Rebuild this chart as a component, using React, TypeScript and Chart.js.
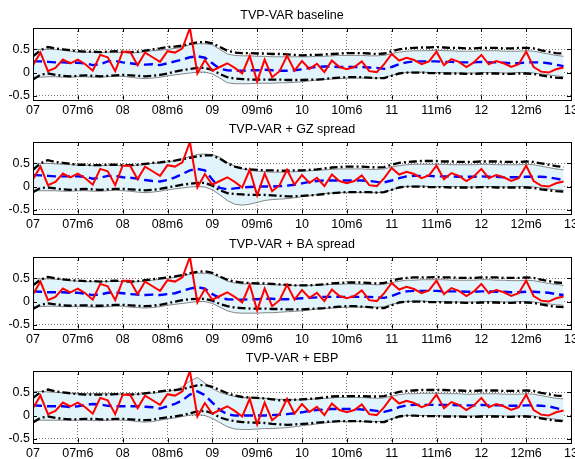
import React, { useEffect, useRef } from "react";
import { Chart, registerables } from "chart.js";
Chart.register(...registerables);

// x positions: months since 2007m1
const months = Array.from({ length: 72 }, (_, i) => i);
const xTickValues = [0, 6, 12, 18, 24, 30, 36, 42, 48, 54, 60, 66, 72];
const xTickLabels = ["07", "07m6", "08", "08m6", "09", "09m6", "10", "10m6", "11", "11m6", "12", "12m6", "13"];
const yTickValues = [-0.5, 0, 0.5];
const yTickLabels = ["-0.5", "0", "0.5"];
const titles = ["TVP-VAR baseline", "TVP-VAR + GZ spread", "TVP-VAR + BA spread", "TVP-VAR + EBP"];

const actual = [
  0.16, 0.43, 0.03, 0.10, 0.28, 0.20, 0.28, 0.18, 0.04, 0.38, 0.33, 0.03,
  0.45, 0.45, 0.16, 0.43, 0.33, 0.23, 0.46, 0.43, 0.52, 0.96, -0.02, 0.27,
  0.04, 0.12, 0.20, 0.10, -0.02, 0.36, -0.19, 0.28, -0.10, 0.03, 0.36, 0.04,
  0.25, 0.08, 0.19, 0.01, 0.26, 0.12, 0.07, 0.12, 0.24, 0.03, 0.01, 0.18,
  0.40, 0.26, 0.32, 0.27, 0.18, 0.24, 0.45, 0.16, 0.29, 0.23, 0.12, 0.22,
  0.38, 0.18, 0.25, 0.20, 0.12, 0.18, 0.45, 0.12, 0.02, 0.00, 0.07, 0.11,
];

// ---- baseline ----
const mean1 = [
  0.24, 0.24, 0.23, 0.22, 0.22, 0.21, 0.21, 0.20, 0.16, 0.18, 0.24, 0.25,
  0.22, 0.20, 0.18, 0.17, 0.18, 0.16, 0.20, 0.24, 0.28, 0.33, 0.35, 0.32,
  0.20, 0.08, 0.05, 0.04, 0.04, 0.05, 0.05, 0.06, 0.05, 0.04, 0.04, 0.05,
  0.07, 0.10, 0.12, 0.13, 0.13, 0.12, 0.12, 0.12, 0.12, 0.11, 0.10, 0.08,
  0.12, 0.18, 0.22, 0.24, 0.24, 0.24, 0.24, 0.23, 0.23, 0.22, 0.22, 0.22,
  0.23, 0.22, 0.22, 0.21, 0.20, 0.20, 0.22, 0.22, 0.22, 0.20, 0.17, 0.14,
];
const outerUp1 = [
  0.35, 0.48, 0.55, 0.52, 0.50, 0.48, 0.46, 0.45, 0.45, 0.44, 0.45, 0.46,
  0.45, 0.44, 0.45, 0.47, 0.50, 0.52, 0.55, 0.56, 0.58, 0.62, 0.65, 0.66,
  0.63, 0.55, 0.47, 0.43, 0.42, 0.42, 0.41, 0.41, 0.40, 0.40, 0.39, 0.38,
  0.37, 0.38, 0.38, 0.39, 0.40, 0.41, 0.42, 0.42, 0.42, 0.41, 0.40, 0.41,
  0.46, 0.50, 0.52, 0.53, 0.54, 0.54, 0.55, 0.54, 0.53, 0.53, 0.52, 0.52,
  0.53, 0.53, 0.53, 0.52, 0.52, 0.53, 0.53, 0.52, 0.48, 0.45, 0.42, 0.41,
];
const outerLo1 = [
  -0.15, -0.05, -0.02, -0.05, -0.07, -0.08, -0.07, -0.06, -0.07, -0.08, -0.07, -0.06,
  -0.05, -0.06, -0.07, -0.08, -0.07, -0.05, -0.02, 0.02, 0.05, 0.08, 0.10, 0.10,
  0.06, -0.03, -0.10, -0.13, -0.14, -0.15, -0.15, -0.15, -0.15, -0.15, -0.16, -0.16,
  -0.16, -0.15, -0.15, -0.14, -0.12, -0.11, -0.10, -0.10, -0.10, -0.11, -0.12, -0.12,
  -0.07, -0.02, 0.00, 0.00, 0.00, -0.01, -0.01, -0.02, -0.02, -0.02, -0.03, -0.03,
  -0.02, -0.02, -0.02, -0.03, -0.03, -0.02, -0.02, -0.03, -0.06, -0.09, -0.11, -0.12,
];
const innerUp1 = [
  0.50, 0.50, 0.50, 0.50, 0.48, 0.46, 0.44, 0.44, 0.44, 0.43, 0.44, 0.44,
  0.43, 0.42, 0.43, 0.45, 0.47, 0.48, 0.50, 0.52, 0.55, 0.60, 0.62, 0.62,
  0.60, 0.50, 0.40, 0.37, 0.36, 0.36, 0.35, 0.35, 0.34, 0.34, 0.34, 0.34,
  0.34, 0.34, 0.35, 0.35, 0.36, 0.37, 0.37, 0.37, 0.37, 0.36, 0.36, 0.37,
  0.41, 0.44, 0.46, 0.47, 0.47, 0.47, 0.48, 0.47, 0.47, 0.46, 0.46, 0.46,
  0.47, 0.47, 0.47, 0.46, 0.46, 0.46, 0.47, 0.46, 0.43, 0.40, 0.37, 0.35,
];
const innerLo1 = [
  -0.10, -0.10, -0.09, -0.09, -0.10, -0.10, -0.09, -0.09, -0.10, -0.10, -0.09, -0.08,
  -0.08, -0.10, -0.12, -0.13, -0.12, -0.10, -0.07, -0.05, -0.03, -0.01, 0.01, 0.01,
  -0.03, -0.12, -0.22, -0.24, -0.24, -0.24, -0.23, -0.23, -0.23, -0.22, -0.22, -0.21,
  -0.20, -0.18, -0.16, -0.15, -0.14, -0.13, -0.12, -0.12, -0.12, -0.12, -0.12, -0.11,
  -0.06, -0.02, 0.00, 0.01, 0.01, 0.00, 0.00, 0.00, -0.01, -0.01, -0.01, -0.01,
  0.00, 0.00, 0.00, -0.01, -0.01, 0.00, 0.00, -0.01, -0.03, -0.05, -0.07, -0.09,
];

// ---- GZ spread ----
const mean2 = [
  0.25, 0.24, 0.23, 0.22, 0.22, 0.22, 0.22, 0.21, 0.17, 0.19, 0.23, 0.23,
  0.20, 0.19, 0.17, 0.14, 0.12, 0.11, 0.14, 0.20, 0.27, 0.35, 0.38, 0.35,
  0.15, -0.03, -0.06, -0.04, -0.02, -0.01, 0.00, 0.00, 0.00, 0.01, 0.02, 0.04,
  0.07, 0.10, 0.12, 0.13, 0.13, 0.13, 0.13, 0.13, 0.13, 0.12, 0.10, 0.09,
  0.13, 0.18, 0.22, 0.23, 0.23, 0.23, 0.22, 0.22, 0.22, 0.21, 0.21, 0.21,
  0.22, 0.21, 0.21, 0.20, 0.20, 0.20, 0.21, 0.21, 0.21, 0.20, 0.17, 0.14,
];
const outerUp2 = [
  0.36, 0.50, 0.57, 0.53, 0.51, 0.49, 0.47, 0.47, 0.46, 0.46, 0.47, 0.47,
  0.46, 0.46, 0.47, 0.49, 0.51, 0.52, 0.54, 0.56, 0.59, 0.62, 0.65, 0.67,
  0.67, 0.60, 0.50, 0.43, 0.39, 0.37, 0.36, 0.35, 0.35, 0.34, 0.34, 0.35,
  0.35, 0.36, 0.37, 0.39, 0.41, 0.42, 0.43, 0.43, 0.43, 0.42, 0.41, 0.42,
  0.47, 0.51, 0.53, 0.54, 0.55, 0.55, 0.55, 0.54, 0.54, 0.53, 0.53, 0.53,
  0.54, 0.54, 0.54, 0.53, 0.53, 0.53, 0.54, 0.53, 0.50, 0.47, 0.44, 0.42,
];
const outerLo2 = [
  -0.12, -0.03, -0.02, -0.04, -0.06, -0.07, -0.06, -0.05, -0.06, -0.07, -0.06, -0.05,
  -0.05, -0.06, -0.07, -0.08, -0.07, -0.05, -0.02, 0.01, 0.04, 0.06, 0.08, 0.08,
  0.02, -0.08, -0.14, -0.16, -0.17, -0.18, -0.18, -0.18, -0.19, -0.20, -0.21, -0.21,
  -0.20, -0.19, -0.18, -0.16, -0.14, -0.13, -0.12, -0.12, -0.12, -0.12, -0.13, -0.12,
  -0.07, -0.02, 0.00, 0.00, 0.00, -0.01, -0.01, -0.01, -0.02, -0.02, -0.02, -0.02,
  -0.01, -0.01, -0.02, -0.02, -0.02, -0.02, -0.02, -0.03, -0.06, -0.08, -0.10, -0.11,
];
const innerUp2 = [
  0.50, 0.50, 0.50, 0.49, 0.48, 0.47, 0.46, 0.46, 0.45, 0.45, 0.46, 0.46,
  0.45, 0.45, 0.46, 0.48, 0.50, 0.51, 0.53, 0.56, 0.60, 0.65, 0.69, 0.70,
  0.69, 0.63, 0.52, 0.44, 0.38, 0.35, 0.33, 0.32, 0.31, 0.31, 0.31, 0.32,
  0.33, 0.34, 0.35, 0.36, 0.37, 0.38, 0.38, 0.38, 0.38, 0.37, 0.37, 0.38,
  0.42, 0.45, 0.47, 0.48, 0.48, 0.48, 0.48, 0.48, 0.47, 0.47, 0.47, 0.47,
  0.48, 0.48, 0.47, 0.47, 0.47, 0.47, 0.48, 0.47, 0.44, 0.41, 0.38, 0.36,
];
const innerLo2 = [
  -0.09, -0.09, -0.09, -0.09, -0.10, -0.10, -0.09, -0.09, -0.10, -0.10, -0.09, -0.08,
  -0.09, -0.10, -0.12, -0.13, -0.12, -0.10, -0.07, -0.05, -0.03, -0.01, 0.00, -0.01,
  -0.07, -0.18, -0.30, -0.38, -0.40, -0.38, -0.34, -0.30, -0.28, -0.27, -0.26, -0.24,
  -0.22, -0.20, -0.17, -0.15, -0.14, -0.13, -0.13, -0.13, -0.13, -0.13, -0.13, -0.12,
  -0.07, -0.02, 0.00, 0.01, 0.01, 0.00, 0.00, 0.00, 0.00, 0.00, -0.01, -0.01,
  0.00, 0.00, 0.00, -0.01, -0.01, 0.00, 0.00, -0.01, -0.03, -0.05, -0.07, -0.08,
];

// ---- BA spread ----
const mean3 = [
  0.22, 0.21, 0.20, 0.20, 0.20, 0.19, 0.19, 0.17, 0.14, 0.15, 0.19, 0.20,
  0.18, 0.16, 0.15, 0.14, 0.15, 0.14, 0.16, 0.18, 0.23, 0.28, 0.31, 0.28,
  0.16, 0.08, 0.05, 0.04, 0.04, 0.05, 0.05, 0.06, 0.06, 0.05, 0.05, 0.06,
  0.07, 0.08, 0.09, 0.10, 0.10, 0.10, 0.10, 0.10, 0.10, 0.10, 0.09, 0.08,
  0.12, 0.18, 0.22, 0.23, 0.23, 0.23, 0.23, 0.22, 0.22, 0.22, 0.21, 0.21,
  0.22, 0.22, 0.21, 0.21, 0.20, 0.20, 0.21, 0.21, 0.20, 0.19, 0.16, 0.14,
];
const outerUp3 = [
  0.35, 0.47, 0.53, 0.50, 0.48, 0.46, 0.45, 0.44, 0.44, 0.43, 0.44, 0.45,
  0.44, 0.43, 0.44, 0.46, 0.48, 0.50, 0.52, 0.54, 0.57, 0.61, 0.64, 0.65,
  0.62, 0.54, 0.47, 0.43, 0.41, 0.40, 0.39, 0.39, 0.38, 0.37, 0.36, 0.35,
  0.35, 0.35, 0.36, 0.37, 0.39, 0.40, 0.41, 0.41, 0.41, 0.40, 0.39, 0.40,
  0.45, 0.49, 0.51, 0.52, 0.52, 0.52, 0.53, 0.52, 0.52, 0.51, 0.51, 0.51,
  0.52, 0.52, 0.52, 0.51, 0.51, 0.51, 0.52, 0.51, 0.47, 0.44, 0.41, 0.40,
];
const outerLo3 = [
  -0.16, -0.07, -0.04, -0.06, -0.08, -0.09, -0.08, -0.08, -0.09, -0.09, -0.08, -0.07,
  -0.07, -0.08, -0.09, -0.10, -0.09, -0.07, -0.04, 0.00, 0.03, 0.05, 0.06, 0.06,
  0.02, -0.05, -0.10, -0.13, -0.14, -0.15, -0.15, -0.15, -0.16, -0.16, -0.17, -0.17,
  -0.17, -0.16, -0.15, -0.14, -0.12, -0.11, -0.10, -0.10, -0.11, -0.12, -0.14, -0.14,
  -0.08, -0.02, 0.00, 0.00, 0.00, -0.01, -0.01, -0.02, -0.02, -0.02, -0.03, -0.03,
  -0.02, -0.02, -0.02, -0.03, -0.03, -0.02, -0.02, -0.03, -0.06, -0.09, -0.11, -0.12,
];
const innerUp3 = [
  0.50, 0.49, 0.49, 0.48, 0.47, 0.45, 0.44, 0.43, 0.43, 0.43, 0.43, 0.44,
  0.43, 0.42, 0.43, 0.44, 0.46, 0.48, 0.50, 0.52, 0.55, 0.59, 0.61, 0.61,
  0.59, 0.52, 0.44, 0.40, 0.38, 0.38, 0.37, 0.37, 0.36, 0.36, 0.35, 0.35,
  0.35, 0.35, 0.35, 0.36, 0.37, 0.37, 0.38, 0.38, 0.37, 0.37, 0.36, 0.37,
  0.41, 0.44, 0.46, 0.46, 0.47, 0.47, 0.47, 0.47, 0.46, 0.46, 0.46, 0.46,
  0.47, 0.47, 0.46, 0.46, 0.45, 0.45, 0.46, 0.45, 0.42, 0.39, 0.37, 0.35,
];
const innerLo3 = [
  -0.11, -0.11, -0.10, -0.10, -0.11, -0.11, -0.11, -0.11, -0.12, -0.12, -0.11, -0.10,
  -0.10, -0.12, -0.13, -0.14, -0.13, -0.11, -0.08, -0.06, -0.04, -0.02, 0.00, 0.00,
  -0.04, -0.12, -0.20, -0.24, -0.25, -0.25, -0.25, -0.24, -0.24, -0.23, -0.22, -0.21,
  -0.20, -0.18, -0.16, -0.15, -0.14, -0.13, -0.12, -0.12, -0.12, -0.12, -0.12, -0.11,
  -0.06, -0.02, 0.00, 0.01, 0.01, 0.00, 0.00, 0.00, -0.01, -0.01, -0.01, -0.01,
  0.00, 0.00, 0.00, -0.01, -0.01, 0.00, 0.00, -0.01, -0.03, -0.05, -0.07, -0.08,
];

// ---- EBP ----
const mean4 = [
  0.22, 0.21, 0.20, 0.20, 0.20, 0.18, 0.20, 0.23, 0.25, 0.24, 0.21, 0.20,
  0.20, 0.20, 0.20, 0.19, 0.18, 0.15, 0.20, 0.25, 0.33, 0.45, 0.52, 0.44,
  0.28, 0.12, 0.03, 0.00, 0.00, 0.00, 0.00, 0.00, 0.01, 0.02, 0.03, 0.05,
  0.07, 0.10, 0.12, 0.13, 0.14, 0.14, 0.14, 0.14, 0.13, 0.12, 0.10, 0.08,
  0.12, 0.18, 0.22, 0.23, 0.23, 0.23, 0.23, 0.23, 0.23, 0.22, 0.22, 0.22,
  0.23, 0.22, 0.22, 0.22, 0.21, 0.21, 0.22, 0.22, 0.21, 0.20, 0.16, 0.12,
];
const outerUp4 = [
  0.38, 0.50, 0.56, 0.52, 0.50, 0.48, 0.46, 0.45, 0.45, 0.45, 0.45, 0.46,
  0.46, 0.45, 0.46, 0.48, 0.50, 0.52, 0.54, 0.55, 0.57, 0.61, 0.65, 0.66,
  0.62, 0.55, 0.48, 0.43, 0.40, 0.39, 0.38, 0.37, 0.35, 0.33, 0.33, 0.34,
  0.35, 0.36, 0.37, 0.39, 0.41, 0.42, 0.42, 0.42, 0.42, 0.41, 0.41, 0.42,
  0.47, 0.51, 0.53, 0.54, 0.55, 0.55, 0.55, 0.55, 0.54, 0.54, 0.53, 0.53,
  0.54, 0.54, 0.54, 0.53, 0.53, 0.53, 0.54, 0.53, 0.49, 0.46, 0.43, 0.42,
];
const outerLo4 = [
  -0.15, -0.05, -0.02, -0.05, -0.07, -0.08, -0.08, -0.07, -0.07, -0.08, -0.08, -0.07,
  -0.07, -0.08, -0.09, -0.10, -0.09, -0.06, -0.04, -0.02, 0.01, 0.05, 0.09, 0.10,
  0.05, -0.04, -0.09, -0.12, -0.14, -0.15, -0.15, -0.16, -0.18, -0.19, -0.20, -0.19,
  -0.18, -0.17, -0.15, -0.14, -0.13, -0.12, -0.12, -0.12, -0.12, -0.13, -0.14, -0.14,
  -0.08, -0.02, 0.00, 0.00, -0.01, -0.01, -0.01, -0.02, -0.02, -0.02, -0.03, -0.03,
  -0.02, -0.02, -0.02, -0.03, -0.03, -0.02, -0.02, -0.03, -0.06, -0.09, -0.11, -0.12,
];
const innerUp4 = [
  0.52, 0.52, 0.51, 0.50, 0.49, 0.48, 0.47, 0.47, 0.47, 0.47, 0.47, 0.47,
  0.46, 0.46, 0.46, 0.47, 0.48, 0.50, 0.52, 0.55, 0.62, 0.75, 0.82, 0.70,
  0.58, 0.50, 0.45, 0.41, 0.39, 0.38, 0.38, 0.37, 0.36, 0.35, 0.35, 0.34,
  0.34, 0.35, 0.36, 0.37, 0.38, 0.39, 0.39, 0.39, 0.39, 0.38, 0.37, 0.38,
  0.42, 0.45, 0.47, 0.47, 0.48, 0.48, 0.48, 0.47, 0.47, 0.47, 0.46, 0.46,
  0.47, 0.47, 0.47, 0.46, 0.46, 0.46, 0.47, 0.46, 0.43, 0.40, 0.37, 0.36,
];
const innerLo4 = [
  -0.10, -0.10, -0.10, -0.10, -0.10, -0.10, -0.10, -0.10, -0.11, -0.11, -0.10, -0.10,
  -0.10, -0.11, -0.13, -0.14, -0.13, -0.10, -0.07, -0.05, -0.02, 0.01, 0.02, 0.00,
  -0.06, -0.15, -0.24, -0.29, -0.30, -0.30, -0.29, -0.28, -0.28, -0.27, -0.26, -0.24,
  -0.22, -0.20, -0.18, -0.16, -0.14, -0.13, -0.13, -0.13, -0.13, -0.13, -0.13, -0.12,
  -0.07, -0.02, 0.00, 0.00, 0.00, 0.00, 0.00, -0.01, -0.01, -0.01, -0.01, -0.01,
  0.00, 0.00, 0.00, -0.01, -0.01, -0.01, 0.00, -0.01, -0.04, -0.06, -0.08, -0.10,
];

const panels = [
  { title: titles[0], mean: mean1, oU: outerUp1, oL: outerLo1, iU: innerUp1, iL: innerLo1 },
  { title: titles[1], mean: mean2, oU: outerUp2, oL: outerLo2, iU: innerUp2, iL: innerLo2 },
  { title: titles[2], mean: mean3, oU: outerUp3, oL: outerLo3, iU: innerUp3, iL: innerLo3 },
  { title: titles[3], mean: mean4, oU: outerUp4, oL: outerLo4, iU: innerUp4, iL: innerLo4 },
];

const FONT = "'Liberation Sans', Arial, Helvetica, sans-serif";
const W = 575;
const H = 115;
const tops = [0, 114, 229, 343];

const pts = (arr: number[]) => arr.map((v, i) => ({ x: months[i], y: v }));

const framePlugin = {
  id: "frame",
  afterDraw(chart: any) {
    const { ctx, chartArea: a, scales } = chart;
    ctx.save();
    ctx.strokeStyle = "#000";
    ctx.lineWidth = 1;
    ctx.setLineDash([]);
    ctx.strokeRect(Math.round(a.left) + 0.5, Math.round(a.top) + 0.5, Math.round(a.right - a.left), Math.round(a.bottom - a.top));
    ctx.beginPath();
    const tl = 4;
    for (const v of xTickValues) {
      const x = Math.round(scales.x.getPixelForValue(v)) + 0.5;
      ctx.moveTo(x, a.bottom);
      ctx.lineTo(x, a.bottom - tl);
      ctx.moveTo(x, a.top);
      ctx.lineTo(x, a.top + tl);
    }
    for (const v of yTickValues) {
      const y = Math.round(scales.y.getPixelForValue(v)) + 0.5;
      ctx.moveTo(a.left, y);
      ctx.lineTo(a.left + tl, y);
      ctx.moveTo(a.right, y);
      ctx.lineTo(a.right - tl, y);
    }
    ctx.stroke();
    ctx.restore();
  },
};

function Panel({ idx }: { idx: number }) {
  const ref = useRef<HTMLCanvasElement | null>(null);
  useEffect(() => {
    const p = panels[idx];
    const chart = new Chart(ref.current as HTMLCanvasElement, {
      type: "line",
      data: {
        datasets: [
          { data: pts(p.iU), borderColor: "#555", borderWidth: 0.7, fill: "+1", backgroundColor: "#e2f4fb", pointRadius: 0, order: 4 },
          { data: pts(p.iL), borderColor: "#555", borderWidth: 0.7, fill: false, pointRadius: 0, order: 4 },
          { data: pts(p.oU), borderColor: "#000", borderWidth: 2.3, borderDash: [8, 3, 2, 3], fill: false, pointRadius: 0, order: 3 },
          { data: pts(p.oL), borderColor: "#000", borderWidth: 2.3, borderDash: [8, 3, 2, 3], fill: false, pointRadius: 0, order: 3 },
          { data: pts(p.mean), borderColor: "#0000ff", borderWidth: 2.4, borderDash: [9, 5], fill: false, pointRadius: 0, order: 2 },
          { data: pts(actual), borderColor: "#ff0000", borderWidth: 2, fill: false, pointRadius: 0, order: 1 },
        ],
      },
      options: {
        animation: false,
        responsive: false,
        events: [],
        layout: { padding: { left: 13, right: 4, top: 0, bottom: 0 } },
        plugins: {
          legend: { display: false },
          tooltip: { enabled: false },
          filler: { drawTime: "beforeDatasetsDraw" },
          title: {
            display: true,
            text: p.title,
            color: "#000",
            font: { family: FONT, size: 12.5, weight: "normal", lineHeight: 1.15 },
            padding: { top: 8, bottom: 5.6 },
          },
        },
        scales: {
          x: {
            type: "linear",
            min: 0,
            max: 72,
            afterBuildTicks: (s: any) => {
              s.ticks = xTickValues.map((v) => ({ value: v }));
            },
            afterFit: (s: any) => {
              s.height = 15.5;
              s.paddingLeft = 0;
              s.paddingRight = 0;
              s._computeLabelArea = () => undefined;
            },
            ticks: {
              autoSkip: false,
              maxRotation: 0,
              padding: 3.5,
              color: "#000",
              font: { family: FONT, size: 12.5 },
              callback: (_v: any, i: number) => xTickLabels[i],
            },
            grid: { color: "#555", lineWidth: 0.8, drawTicks: false },
            border: { display: false, dash: [1, 2] },
          },
          y: {
            type: "linear",
            min: -0.58,
            max: 0.96,
            afterBuildTicks: (s: any) => {
              s.ticks = yTickValues.map((v) => ({ value: v }));
            },
            afterFit: (s: any) => {
              s.width = 20;
              s.paddingTop = 0;
              s.paddingBottom = 0;
              s._computeLabelArea = () => undefined;
            },
            ticks: {
              padding: 3,
              color: "#000",
              font: { family: FONT, size: 12.5 },
              callback: (_v: any, i: number) => yTickLabels[i],
            },
            grid: { color: "#555", lineWidth: 0.8, drawTicks: false },
            border: { display: false, dash: [1, 2] },
          },
        },
      },
      plugins: [framePlugin],
    } as any);
    return () => chart.destroy();
  }, [idx]);
  return (
    <canvas
      ref={ref}
      width={W}
      height={H}
      style={{ position: "absolute", left: 0, top: tops[idx], width: W, height: H }}
    />
  );
}

export default function App() {
  return (
    <div style={{ position: "fixed", left: 0, top: 0, width: W, height: 459, background: "#fff" }}>
      {panels.map((_, i) => (
        <Panel key={i} idx={i} />
      ))}
    </div>
  );
}
